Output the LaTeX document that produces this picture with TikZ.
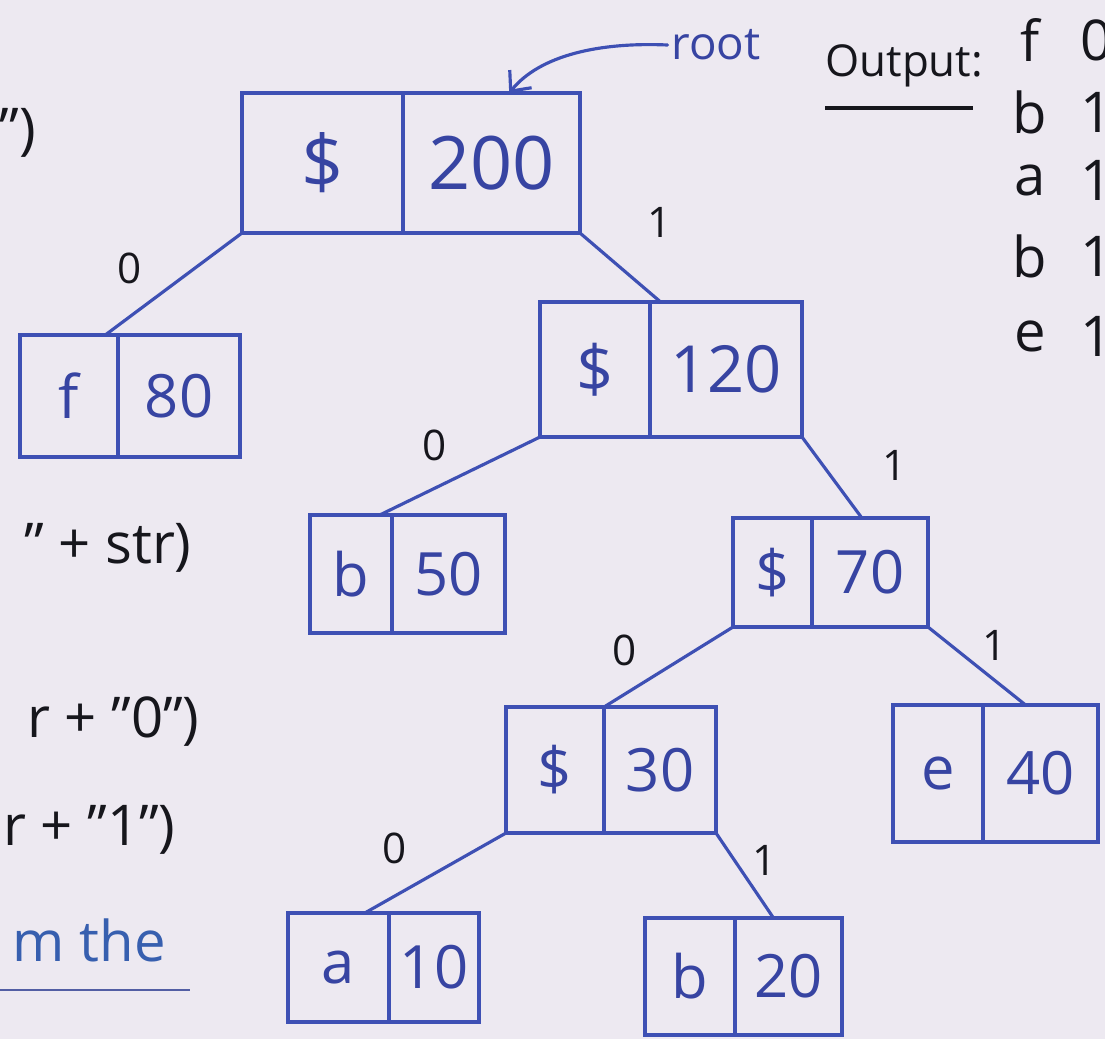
\documentclass[tikz,border=0pt]{standalone}
\usepackage{fontspec}
\setmainfont{Open Sans}
\usetikzlibrary{fit,calc,arrows.meta}
\definecolor{bgcol}{RGB}{237,233,241}
\definecolor{ink}{RGB}{62,80,180}
\definecolor{inktext}{RGB}{55,68,162}
\definecolor{pen}{RGB}{22,22,28}
\definecolor{bluenote}{RGB}{55,95,175}
\begin{document}
\begin{tikzpicture}[x=0.02cm,y=-0.02cm,
  cellbox/.style={draw=ink, line width=2.2pt, inner sep=0pt, outer sep=0pt},
  celltxt/.style={text=inktext, inner sep=0pt, font=\fontsize{34}{36}\selectfont},
  bigtxt/.style={celltxt, font=\fontsize{42}{44}\selectfont},
  midtxt/.style={celltxt, font=\fontsize{37}{39}\selectfont},
  edge/.style={draw=ink, line width=1.8pt, line cap=round},
  bitlbl/.style={text=pen, font=\fontsize{24}{26}\selectfont, inner sep=0pt},
  note/.style={text=pen, font=\fontsize{32}{34}\selectfont, inner sep=0pt},
  outtxt/.style={text=pen, font=\fontsize{32}{34}\selectfont, inner sep=0pt}]
\clip (0,0) rectangle (1105,1039);
\fill[bgcol] (0,0) rectangle (1105,1039);

% ---- left notes (cut off by the frame) ----
\node[note, anchor=east] (n1) at (36,133) {")};
\node[note, anchor=east] (n2) at (192,548) {" + str)};
\node[note, anchor=east] (n3) at (200,722) {r + "0")};
\node[note, anchor=east] (n4) at (176,830) {r + "1")};
\node[note, anchor=east, text=bluenote] (n5) at (166,940) {m the};
\coordinate (ulA) at (0,990);
\coordinate (ulB) at (190,990);
\draw[draw=ink!70!gray, line width=1.6pt] (ulA) -- (ulB);

% ---- output ----
\node[text=pen, font=\fontsize{25}{27}\selectfont, inner sep=0pt, anchor=west] (outl) at (825,66) {Output:};
\coordinate (ouA) at (825,108);
\coordinate (ouB) at (973,108);
\draw[pen, line width=2pt] (ouA) -- (ouB);
\node[outtxt] (o1) at (1030,40) {f};
\node[outtxt] (o2) at (1030,112) {b};
\node[outtxt] (o3) at (1030,180) {a};
\node[outtxt] (o4) at (1030,256) {b};
\node[outtxt] (o5) at (1030,336) {e};
\node[outtxt, anchor=west] (c1) at (1080,40) {0};
\node[outtxt, anchor=west] (c2) at (1080,112) {1};
\node[outtxt, anchor=west] (c3) at (1080,180) {1};
\node[outtxt, anchor=west] (c4) at (1080,256) {1};
\node[outtxt, anchor=west] (c5) at (1080,336) {1};

% ---- tree boxes ----
\node[cellbox, fit={(242,93)(403,233)}] (rootk) {};
\node[cellbox, fit={(403,93)(580,233)}] (rootv) {};
\node[cellbox, fit={(20,335)(118,457)}] (fk) {};
\node[cellbox, fit={(118,335)(240,457)}] (fv) {};
\node[cellbox, fit={(540,302)(650,437)}] (n120k) {};
\node[cellbox, fit={(650,302)(802,437)}] (n120v) {};
\node[cellbox, fit={(310,515)(392,633)}] (b50k) {};
\node[cellbox, fit={(392,515)(505,633)}] (b50v) {};
\node[cellbox, fit={(733,518)(812,627)}] (n70k) {};
\node[cellbox, fit={(812,518)(928,627)}] (n70v) {};
\node[cellbox, fit={(506,707)(604,833)}] (n30k) {};
\node[cellbox, fit={(604,707)(716,833)}] (n30v) {};
\node[cellbox, fit={(893,705)(983,842)}] (e40k) {};
\node[cellbox, fit={(983,705)(1098,842)}] (e40v) {};
\node[cellbox, fit={(288,913)(389,1022)}] (a10k) {};
\node[cellbox, fit={(389,913)(479,1022)}] (a10v) {};
\node[cellbox, fit={(645,918)(735,1035)}] (b20k) {};
\node[cellbox, fit={(735,918)(842,1035)}] (b20v) {};

% ---- cell texts ----
\node[bigtxt] (trootk) at (rootk.center) {\$};
\node[bigtxt] (trootv) at (rootv.center) {200};
\node[celltxt] (tfk) at (fk.center) {f};
\node[celltxt] (tfv) at (fv.center) {80};
\node[midtxt] (tn120k) at (n120k.center) {\$};
\node[midtxt] (tn120v) at (n120v.center) {120};
\node[celltxt] (tb50k) at (b50k.center) {b};
\node[celltxt] (tb50v) at (b50v.center) {50};
\node[celltxt] (tn70k) at (n70k.center) {\$};
\node[celltxt] (tn70v) at (n70v.center) {70};
\node[celltxt] (tn30k) at (n30k.center) {\$};
\node[celltxt] (tn30v) at (n30v.center) {30};
\node[celltxt] (te40k) at (e40k.center) {e};
\node[celltxt] (te40v) at (e40v.center) {40};
\node[celltxt] (ta10k) at (a10k.center) {a};
\node[celltxt] (ta10v) at (a10v.center) {10};
\node[celltxt] (tb20k) at (b20k.center) {b};
\node[celltxt] (tb20v) at (b20v.center) {20};

% ---- connectors ----
\draw[edge] (rootk.south west) -- ($(fk.north east)!0.13!(fk.north west)$);
\draw[edge] (rootv.south east) -- ($(n120v.north west)!0.07!(n120v.north east)$);
\draw[edge] (n120k.south west) -- ($(b50k.north east)!0.15!(b50k.north west)$);
\draw[edge] (n120v.south east) -- ($(n70v.north west)!0.43!(n70v.north east)$);
\draw[edge] (n70k.south west) -- (n30k.north east);
\draw[edge] (n70v.south east) -- ($(e40v.north west)!0.37!(e40v.north east)$);
\draw[edge] (n30k.south west) -- ($(a10k.north east)!0.24!(a10k.north west)$);
\draw[edge] (n30v.south east) -- ($(b20v.north west)!0.36!(b20v.north east)$);

% ---- bit labels ----
\node[bitlbl] (l1) at (130,268) {0};
\node[bitlbl] (l2) at (660,222) {1};
\node[bitlbl] (l3) at (435,445) {0};
\node[bitlbl] (l4) at (895,465) {1};
\node[bitlbl] (l5) at (625,650) {0};
\node[bitlbl] (l6) at (995,645) {1};
\node[bitlbl] (l7) at (395,848) {0};
\node[bitlbl] (l8) at (765,860) {1};

% ---- root pointer ----
\node[text=inktext, font=\fontsize{26}{28}\selectfont, inner sep=2pt] (rootlbl) at (716,45) {root};
\draw[edge, -{Straight Barb[length=9pt,width=16pt]}] (rootlbl.west) .. controls (600,42) and (540,55) .. ($(rootv.north west)!0.6!(rootv.north east)$);
\end{tikzpicture}
\end{document}
